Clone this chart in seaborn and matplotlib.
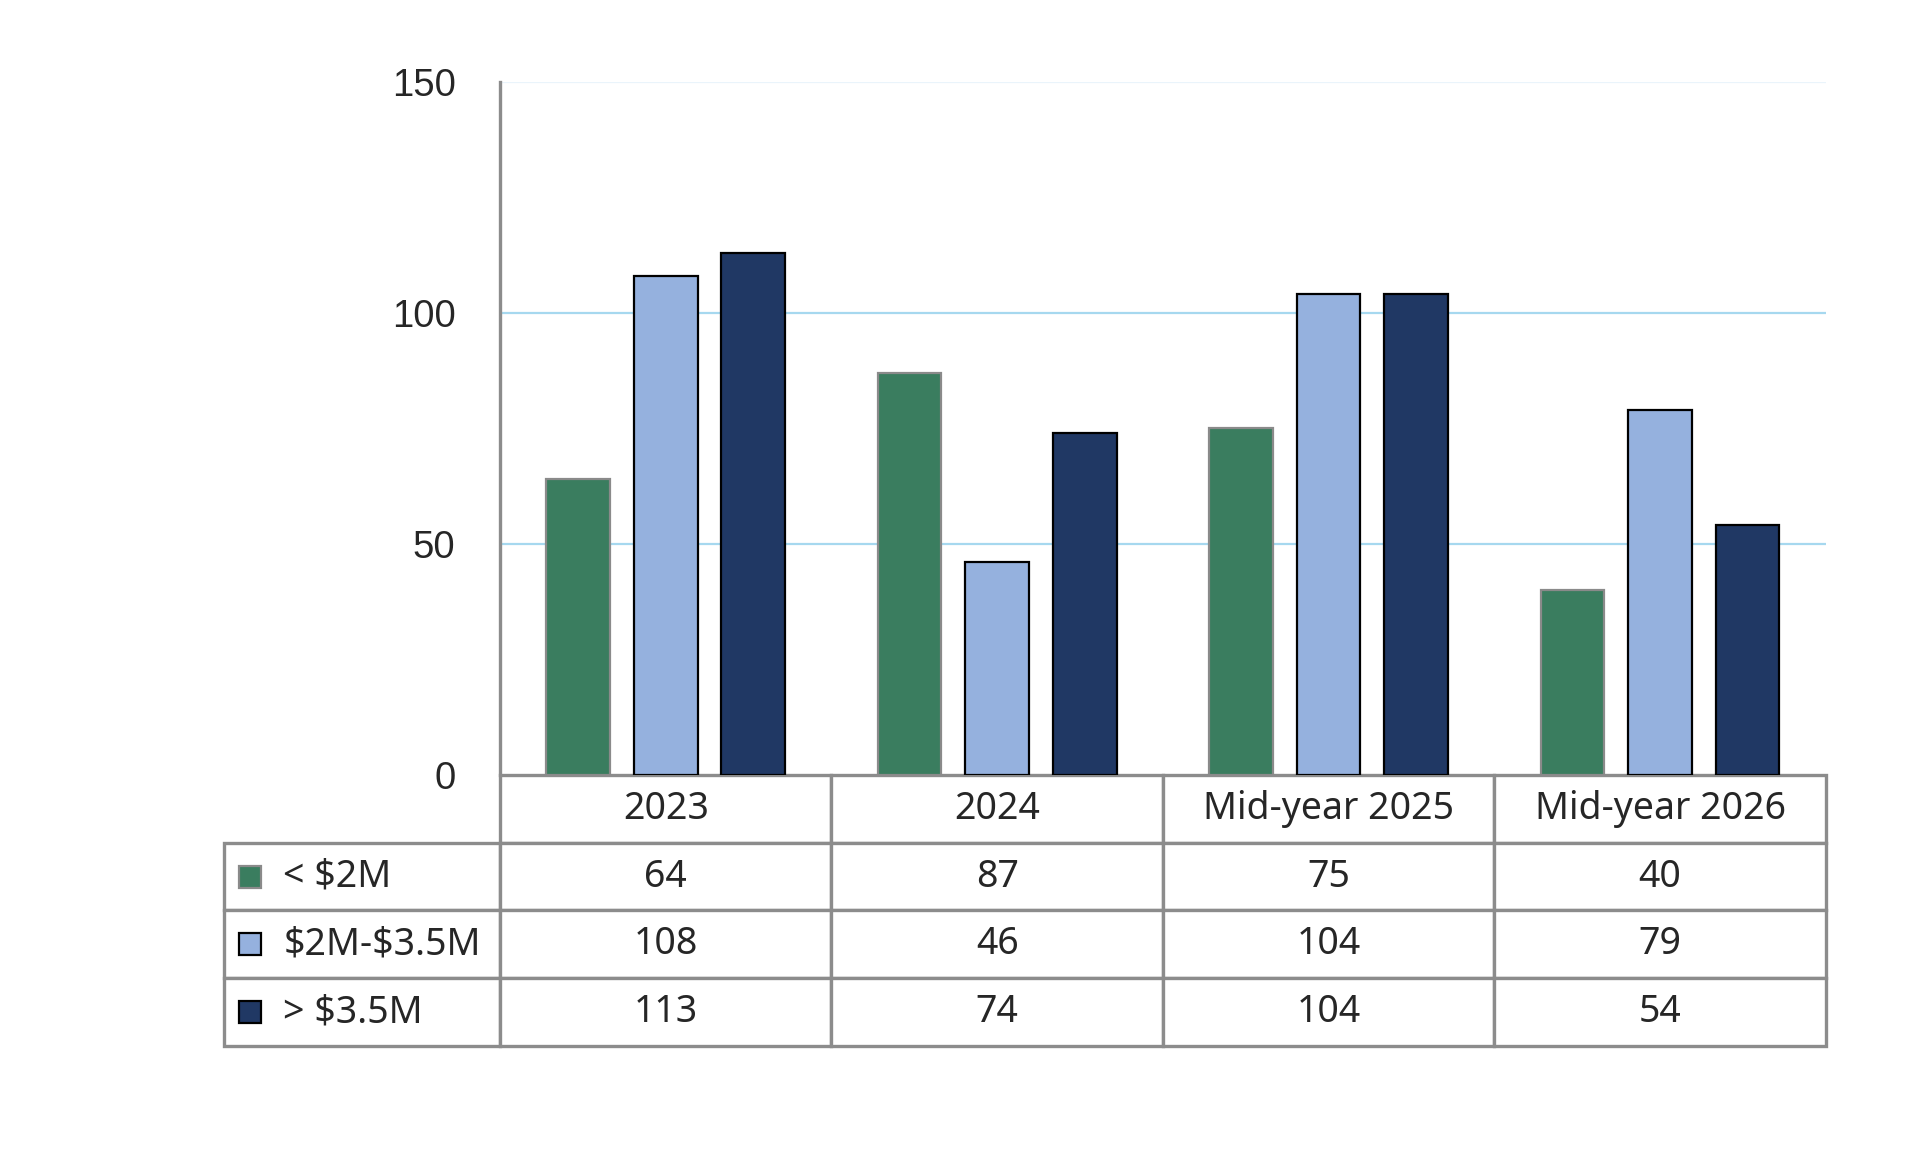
import numpy as np
import pandas as pd
import matplotlib
matplotlib.use("Agg")
import matplotlib.pyplot as plt
import seaborn as sns
from matplotlib.patches import Rectangle
from matplotlib.table import Table

# ---- data ----
categories = ["2023", "2024", "Mid-year 2025", "Mid-year 2026"]
series_names = ["< $2M", "$2M-$3.5M", "> $3.5M"]
under_2m = [64, 87, 75, 40]
mid_2m_35m = [108, 46, 104, 79]
over_35m = [113, 74, 104, 54]
y_ticks = [0, 50, 100, 150]

series_values = [under_2m, mid_2m_35m, over_35m]
colors = ["#3a7d5f", "#95b1de", "#203864"]
edge_colors = ["#8a8a8a", "#000000", "#000000"]
border = "#8c8c8c"

rows = []
for name, vals in zip(series_names, series_values):
    for cat, v in zip(categories, vals):
        rows.append({"category": cat, "series": name, "value": v})
df = pd.DataFrame(rows)

sns.set_style("white")
plt.rcParams["font.family"] = ["Liberation Sans", "DejaVu Sans"]

fig = plt.figure(figsize=(19.2, 11.56), dpi=100)
ax = fig.add_axes([0.2604, 0.3296, 0.6906, 0.5995])

sns.barplot(data=df, x="category", y="value", hue="series", order=categories,
            hue_order=series_names, palette=colors, saturation=1,
            width=0.792, gap=0.273, legend=False, ax=ax)

for i, cont in enumerate(ax.containers):
    for bar in cont:
        bar.set_edgecolor(edge_colors[i])
        bar.set_linewidth(1.6)

ax.set_ylim(0, 150)
ax.set_xlim(-0.5, len(categories) - 0.5)
ax.set_yticks(y_ticks)
ax.set_yticklabels([str(t) for t in y_ticks], fontsize=27.5)
ax.tick_params(axis="y", length=0, pad=32)
ax.set_xticks([])
ax.set_xlabel("")
ax.set_ylabel("")
ax.set_axisbelow(True)
ax.yaxis.grid(True, color="#a6d8ef", linewidth=1.6)
gl = ax.get_ygridlines()
gl[0].set_visible(False)
gl[-1].set_color("#eaf4fb")
for s in ["top", "right", "bottom"]:
    ax.spines[s].set_visible(False)
ax.spines["left"].set_color(border)
ax.spines["left"].set_linewidth(2.4)

# ---- data table ----
tbl_h = 0.391
row_label_w = 0.2081
col_w = 1.0 / len(categories)
nrows = len(series_names) + 1
h = tbl_h / nrows
# bbox covers the data cells only; the row-label column extends to the left
tbl = Table(ax, bbox=[0, -tbl_h, 1, tbl_h])
for j, cat in enumerate(categories):
    tbl.add_cell(0, j, width=col_w, height=h, text=cat, loc="center")
for i, (name, vals) in enumerate(zip(series_names, series_values)):
    c = tbl.add_cell(i + 1, -1, width=row_label_w, height=h, text=name, loc="left")
    c.PAD = 0.215
    for j, v in enumerate(vals):
        tbl.add_cell(i + 1, j, width=col_w, height=h, text=str(v), loc="center")
tbl.auto_set_font_size(False)
tbl.set_fontsize(27)
for (r, c), cell in tbl.get_celld().items():
    cell.set_edgecolor(border)
    cell.set_linewidth(2.4)
    cell.set_facecolor("white")
    cell.get_text().set_parse_math(False)
    cell.get_text().set_fontfamily(["Noto Sans", "DejaVu Sans"])
ax.add_table(tbl)

# legend swatches in row-label cells
sw_w = 22 / 1326
sw_h = 22 / 693
for i, (col, ec) in enumerate(zip(colors, edge_colors)):
    yc = -(h * (i + 1) + h / 2)
    ax.add_patch(Rectangle((-0.1968, yc - sw_h / 2), sw_w, sw_h,
                           transform=ax.transAxes, clip_on=False,
                           facecolor=col, edgecolor=ec, linewidth=1.6, zorder=5))

fig.savefig("out.png", dpi=100, facecolor="white")
